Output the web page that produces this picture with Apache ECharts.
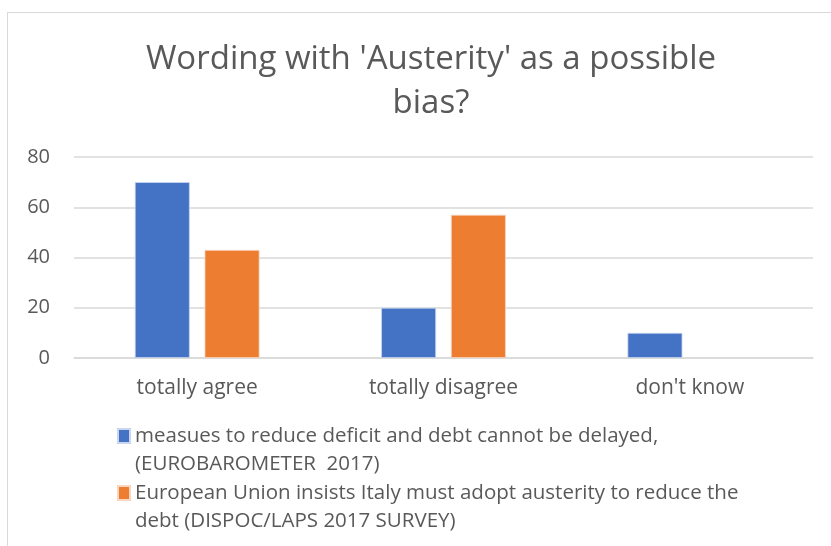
<!DOCTYPE html>
<html>
<head>
<meta charset="utf-8">
<script src="https://cdn.jsdelivr.net/npm/echarts@6/dist/echarts.min.js"></script>
<style>
  html, body { margin: 0; padding: 0; overflow: hidden; background: #fff; }
  #chart { position: absolute; left: 0; top: 0; width: 831px; height: 546px; }
  #frame { position: absolute; left: 7px; top: 12px; width: 900px; height: 600px; border: 1px solid #d9d9d9; pointer-events: none; }
</style>
</head>
<body>
<div id="chart"></div>
<div id="frame"></div>
<script>
let categories = ['totally agree', 'totally disagree', "don't know"]
let seriesNames = [
  'measues to reduce deficit and debt cannot be delayed, (EUROBAROMETER  2017)',
  'European Union insists Italy must adopt austerity to reduce the debt (DISPOC/LAPS 2017 SURVEY)'
]
let legendLines = [
  'measues to reduce deficit and debt cannot be delayed,\n(EUROBAROMETER  2017)',
  'European Union insists Italy must adopt austerity to reduce the\ndebt (DISPOC/LAPS 2017 SURVEY)'
]
let euroValues = [70, 20, 10]
let dispocValues = [43, 57, null]
let yTicks = { min: 0, max: 80, interval: 20 }

let font = '"Open Sans", sans-serif'
let grey = '#595959'
// square sits on the first text line of a two-line legend entry
let icon = 'path://M0,0M0,7H12V21H0ZM12,56'

function legendFor (i, top) {
  return {
    orient: 'vertical',
    left: 112,
    top: top,
    itemWidth: 12,
    itemHeight: 56,
    icon: icon,
    data: [seriesNames[i]],
    formatter: function () {
      return legendLines[i]
    },
    textStyle: {
      fontFamily: font,
      fontSize: 20.5,
      color: grey,
      lineHeight: 28
    }
  }
}

let myChart = echarts.init(document.getElementById('chart'))
myChart.setOption({
  animation: false,
  textStyle: { fontFamily: font },
  title: {
    text: "Wording with 'Austerity' as a possible\nbias?",
    left: 426,
    top: 33,
    textAlign: 'center',
    textStyle: {
      fontFamily: font,
      fontSize: 33,
      fontWeight: 'normal',
      color: grey,
      lineHeight: 44
    }
  },
  grid: {
    left: 74,
    right: 18,
    top: 157,
    bottom: 188
  },
  legend: [legendFor(0, 416), legendFor(1, 473)],
  xAxis: {
    type: 'category',
    data: categories,
    axisTick: { show: false },
    axisLine: { lineStyle: { color: '#d9d9d9', width: 1.5 } },
    axisLabel: {
      color: grey,
      fontFamily: font,
      fontSize: 21,
      margin: 20
    }
  },
  yAxis: {
    type: 'value',
    min: yTicks.min,
    max: yTicks.max,
    interval: yTicks.interval,
    axisLine: { show: false },
    axisTick: { show: false },
    splitLine: { lineStyle: { color: '#d9d9d9', width: 1.5 } },
    axisLabel: {
      color: grey,
      fontFamily: font,
      fontSize: 20,
      margin: 24
    }
  },
  series: [
    {
      name: seriesNames[0],
      type: 'bar',
      data: euroValues,
      barWidth: '22.3%',
      barGap: '27%',
      itemStyle: { color: '#4472c4', borderColor: '#c9d6ee', borderWidth: 0.8 }
    },
    {
      name: seriesNames[1],
      type: 'bar',
      data: dispocValues,
      barWidth: '22.3%',
      itemStyle: { color: '#ed7d31', borderColor: '#f8d6c0', borderWidth: 0.8 }
    }
  ]
})
</script>
</body>
</html>
